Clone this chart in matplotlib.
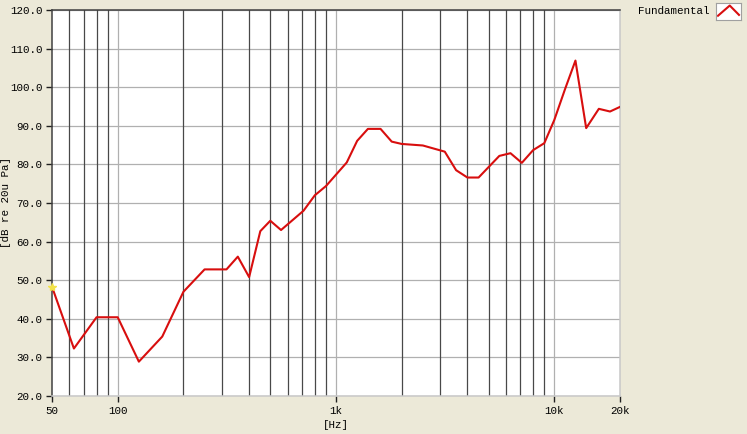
import matplotlib
matplotlib.use("Agg")
import matplotlib.pyplot as plt
from matplotlib.ticker import FixedLocator, NullFormatter

# Frequency response (fundamental)
freq_hz = [50, 63, 80, 100, 125, 160, 200, 250, 315, 355, 400, 450, 500, 560,
           710, 800, 900, 1120, 1250, 1400, 1600, 1800, 2000, 2500, 3150, 3550,
           4000, 4500, 5600, 6300, 7100, 8000, 9000, 10000, 11200, 12500,
           14000, 16000, 18000, 20000]
level_db = [48.3, 32.3, 40.4, 40.4, 28.9, 35.4, 47.0, 52.8, 52.8, 56.1, 50.8,
            62.7, 65.4, 63.0, 68.0, 72.0, 74.4, 80.5, 86.1, 89.2, 89.2, 85.9,
            85.3, 84.9, 83.3, 78.5, 76.6, 76.6, 82.2, 82.9, 80.4, 83.7, 85.5,
            91.5, 99.5, 106.9, 89.4, 94.4, 93.7, 94.9]

x_ticks = [50, 100, 1000, 10000, 20000]
x_tick_labels = ["50", "100", "1k", "10k", "20k"]
major_grid = [100, 1000, 10000]
minor_grid = [60, 70, 80, 90, 200, 300, 400, 500, 600, 700, 800, 900,
              2000, 3000, 4000, 5000, 6000, 7000, 8000, 9000]
y_ticks = list(range(20, 121, 10))

bg = "#ECE9D8"
mono = "Liberation Mono"
fs = 7.8

fig = plt.figure(figsize=(7.47, 4.34), dpi=100, facecolor=bg)
ax = fig.add_axes([52 / 747, 38 / 434, 568 / 747, 386 / 434])
ax.set_facecolor("white")

ax.set_xscale("log")
ax.set_xlim(50, 20000)
ax.set_ylim(20, 120)

# grid lines
for y in y_ticks:
    ax.axhline(y, color="#B0B0B0", lw=0.9, zorder=1)
for f in minor_grid:
    ax.axvline(f, color="#484848", lw=0.9, zorder=1)
for f in major_grid:
    ax.axvline(f, color="#B0B0B0", lw=0.9, zorder=1)

ax.plot(freq_hz, level_db, color="#D80E0E", lw=1.5, zorder=3)
# cursor marker at the first point
ax.plot(freq_hz[0], level_db[0], marker="*", ms=6, color="#F2E24A",
        mec="#F2E24A", zorder=4, clip_on=False)

ax.xaxis.set_major_locator(FixedLocator(x_ticks))
ax.set_xticklabels(x_tick_labels)
ax.xaxis.set_minor_formatter(NullFormatter())
ax.tick_params(axis="x", which="minor", length=0)
ax.set_yticks(y_ticks)
ax.set_yticklabels([f"{v:.1f}" for v in y_ticks])
ax.tick_params(axis="both", which="major", direction="out", length=4,
               width=1, color="#202020", labelsize=fs, pad=3)
for lab in ax.get_xticklabels() + ax.get_yticklabels():
    lab.set_family(mono)

for side in ["left", "top"]:
    ax.spines[side].set_color("#404040")
    ax.spines[side].set_linewidth(1.1)
for side in ["bottom", "right"]:
    ax.spines[side].set_color("#C8C8C8")
    ax.spines[side].set_linewidth(1.1)

ax.set_xlabel("[Hz]", family=mono, fontsize=fs, labelpad=3)

# y label placed by hand, like the reference (far left edge)
fig.text(6.5 / 747, 0.5 * (1 + 38 / 434 - 10 / 434), "[dB re 20u Pa]",
         family=mono, fontsize=fs, rotation=90, ha="center", va="center")

# legend: label and small icon box
fig.text(638 / 747, 1 - 11 / 434, "Fundamental", family=mono, fontsize=fs,
         ha="left", va="center")
icon = fig.add_axes([716 / 747, 1 - 20 / 434, 25 / 747, 17 / 434])
icon.set_facecolor("white")
icon.plot([0.08, 0.55, 0.92], [0.25, 0.85, 0.3], color="#D80E0E", lw=1.5)
icon.set_xlim(0, 1)
icon.set_ylim(0, 1)
icon.set_xticks([])
icon.set_yticks([])
for s in icon.spines.values():
    s.set_color("#A0A0A0")

fig.savefig("out.png", dpi=100, facecolor=bg)
